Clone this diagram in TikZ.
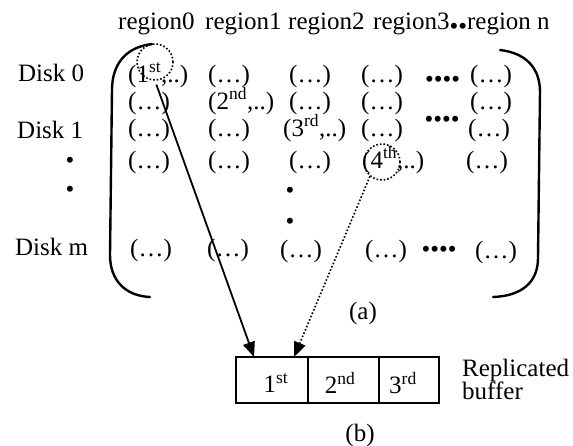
\documentclass[tikz,border=0pt]{standalone}
\usepackage{fontspec}
\setmainfont{Liberation Serif}
\usetikzlibrary{arrows.meta}
\newcommand{\bdots}[1]{\raisebox{-0.22em}{#1}}
\begin{document}
\begin{tikzpicture}[x=1pt,y=-1pt,
  txt/.style={inner sep=0pt, font=\fontsize{25}{23}\selectfont},
  entry/.style={txt, anchor=base west},
  bracket/.style={line width=2.4pt, line cap=round},
  ring/.style={circle, draw, dotted, line width=1.6pt, minimum size=36pt, inner sep=0pt},
  solidarrow/.style={line width=1.8pt, -{Triangle[length=15pt,width=12pt]}},
  dotarrow/.style={line width=1.6pt, dotted, -{Triangle[length=15pt,width=12pt]}},
  bufcell/.style={draw, line width=2.2pt, minimum height=46pt, inner sep=0pt}
]
\useasboundingbox (0,0) rectangle (573,445);

% header
\node[entry] (h0) at (118,29) {region0};
\node[entry] (h1) at (205,29) {region1};
\node[entry] (h2) at (288,29) {region2};
\node[entry] (h3) at (373,29) {region3\bdots{••}region n};

% disk labels
\node[entry] (dk0) at (18,81) {Disk 0};
\node[entry] (dk1) at (17,138) {Disk 1};
\node[txt] (dv1) at (70,163) {•};
\node[txt] (dv2) at (70,192) {•};
\node[entry] (dkm) at (15,255) {Disk m};

% row 1
\node[entry] (e10) at (128,82) {(1\textsuperscript{st},..)};
\node[entry] (e11) at (208,82) {(…)};
\node[entry] (e12) at (289,82) {(…)};
\node[entry] (e13) at (361,82) {(…)};
\node[entry] (e1d) at (425,82) {\bdots{••••}};
\node[entry] (e1n) at (470,82) {(…)};
% row 2
\node[entry] (e20) at (128,109) {(…)};
\node[entry] (e21) at (208,109) {(2\textsuperscript{nd},..)};
\node[entry] (e22) at (289,109) {(…)};
\node[entry] (e23) at (361,109) {(…)};
\node[txt] (e2d) at (442,122) {••••};
\node[entry] (e2n) at (470,109) {(…)};
% row 3
\node[entry] (e30) at (128,136) {(…)};
\node[entry] (e31) at (208,136) {(…)};
\node[entry] (e32) at (283,136) {(3\textsuperscript{rd},..)};
\node[entry] (e33) at (361,136) {(…)};
\node[entry] (e3n) at (468,136) {(…)};
% row 4
\node[entry] (e40) at (128,168) {(…)};
\node[entry] (e41) at (208,168) {(…)};
\node[entry] (e42) at (289,168) {(…)};
\node[entry] (e43) at (362,168) {(4\textsuperscript{th},..)};
\node[entry] (e4n) at (466,168) {(…)};
% column dots
\node[txt] (cv1) at (290,193) {•};
\node[txt] (cv2) at (290,224) {•};
% row m
\node[entry] (em0) at (130,256) {(…)};
\node[entry] (em1) at (207,256) {(…)};
\node[entry] (em2) at (280,257) {(…)};
\node[entry] (em3) at (365,257) {(…)};
\node[txt] (emd) at (439,252) {••••};
\node[entry] (emn) at (475,258) {(…)};

% brackets
\draw[bracket] (152,44) .. controls (126,47) and (112,64) .. (112,90)
  -- (110,255) .. controls (110,281) and (126,296) .. (150,297);
\draw[bracket] (500,50) .. controls (526,53) and (540,68) .. (540,92)
  -- (538,258) .. controls (538,282) and (522,296) .. (493,297);

% rings
\node[ring] (c1) at (155,62) {};
\node[ring] (c2) at (382,162) {};

\node[txt] (la) at (363,313) {(a)};

% buffer
\node[bufcell, minimum width=72pt] (b1) at (272,380) {};
\node[bufcell, minimum width=71pt] (b2) at (343.5,380) {};
\node[bufcell, minimum width=60pt] (b3) at (409,380) {};
\node[txt] (t1x) at (276,383) {1\textsuperscript{st}};
\node[txt] (t2x) at (340,383) {2\textsuperscript{nd}};
\node[txt] (t3x) at (403,383) {3\textsuperscript{rd}};
\node[txt, anchor=north west, align=left] (rb) at (462,359) {Replicated\\buffer};
\node[txt] (lb) at (360,435) {(b)};

\coordinate (p1) at (254,357);
\coordinate (p2) at (294,357);
\draw[solidarrow, shorten <=4pt] (c1.south) -- (p1);
\draw[dotarrow] (c2.230) -- (p2);
\end{tikzpicture}
\end{document}
